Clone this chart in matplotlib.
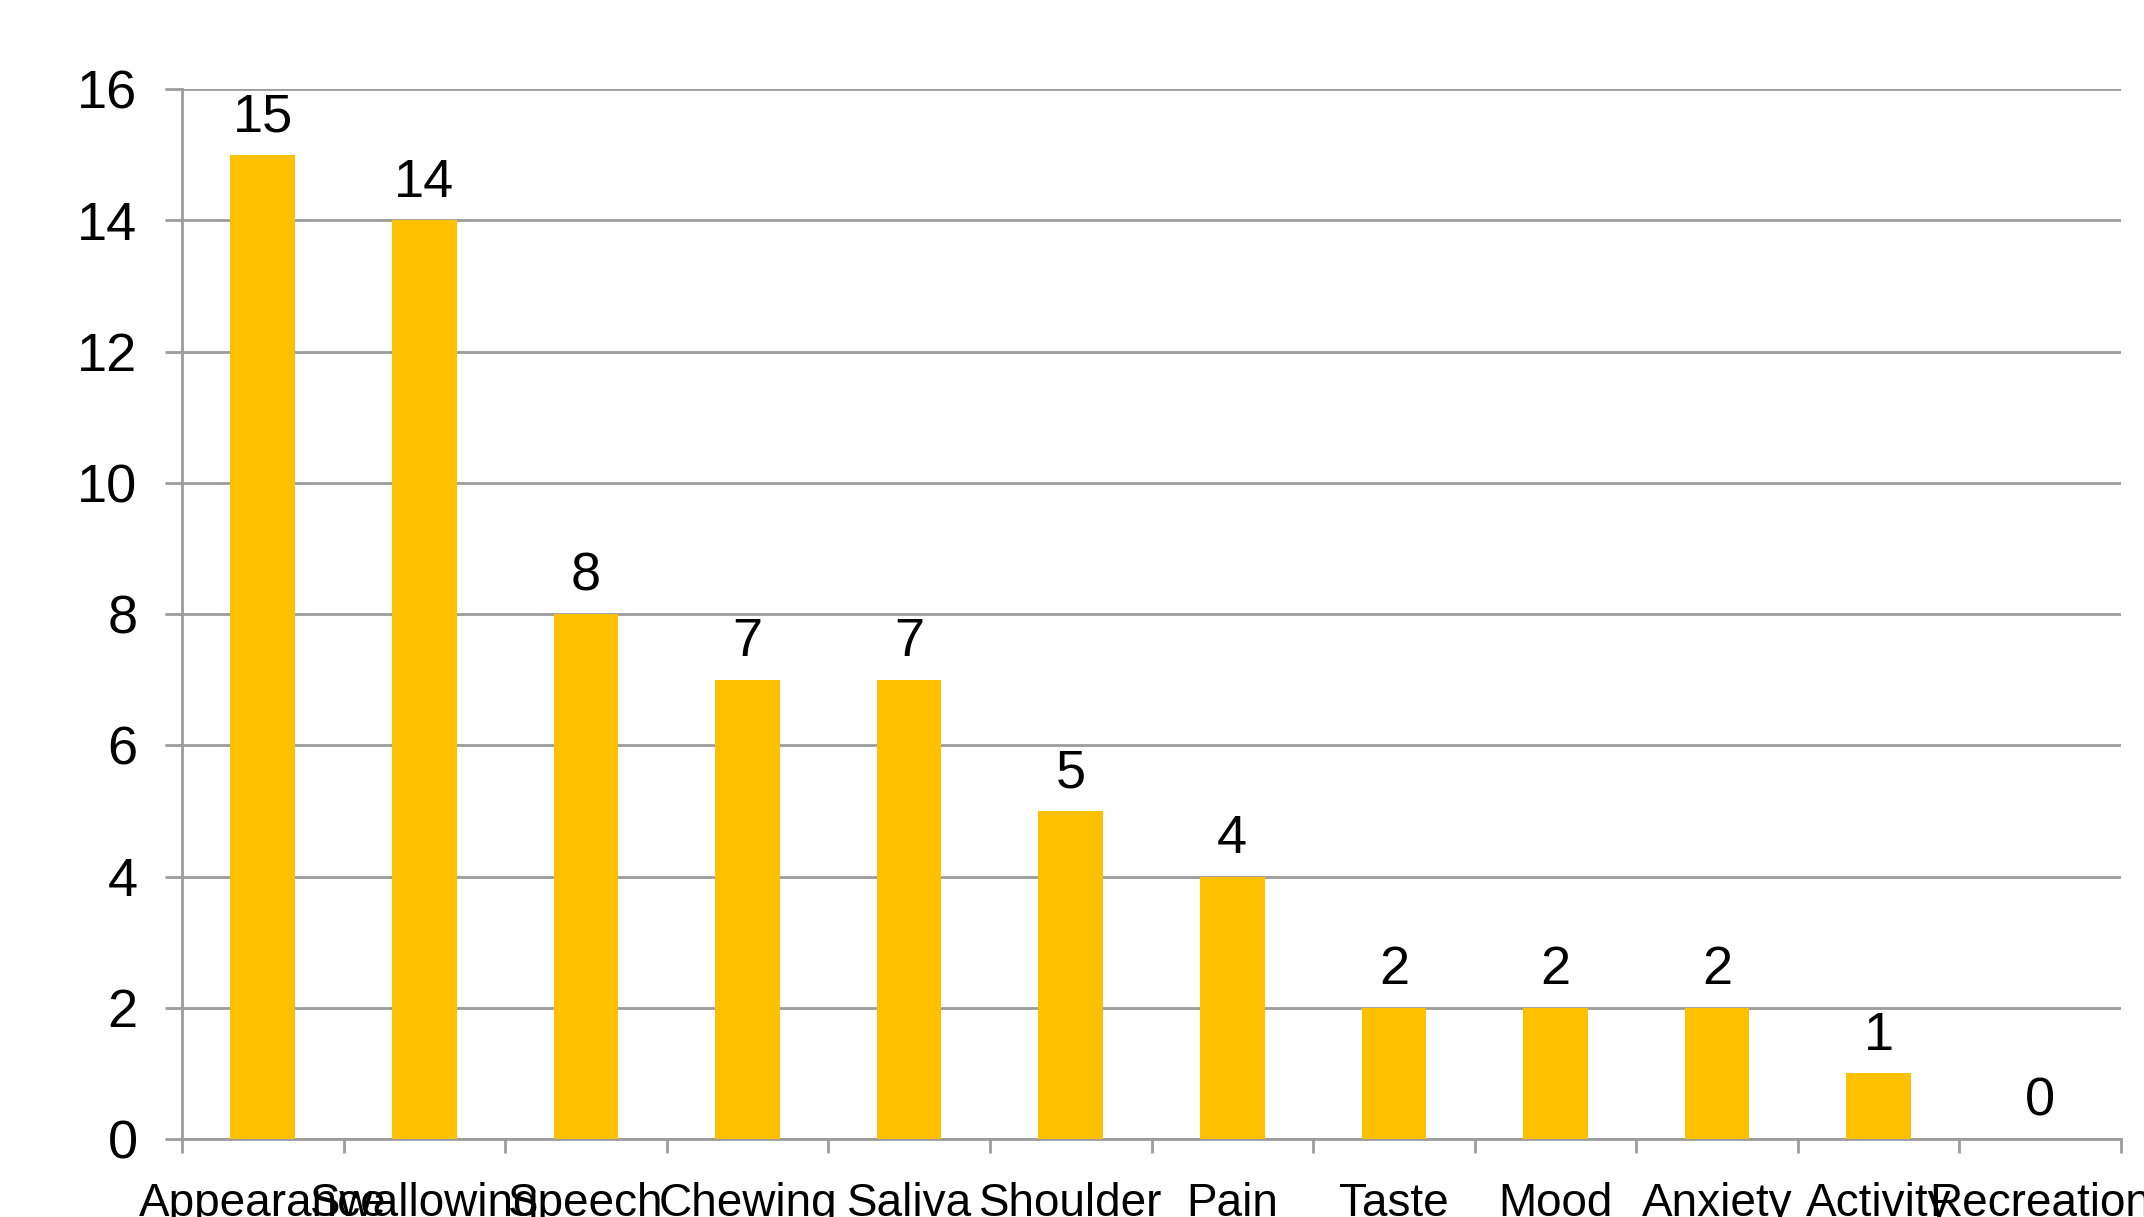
import numpy as np
import matplotlib
matplotlib.use('Agg')
import matplotlib.pyplot as plt
from matplotlib.ticker import FixedLocator, NullFormatter

# dados
categorias = ['Appearance', 'Swallowing', 'Speech', 'Chewing', 'Saliva',
              'Shoulder', 'Pain', 'Taste', 'Mood', 'Anxiety', 'Activity',
              'Recreation']
valores = [15, 14, 8, 7, 7, 5, 4, 2, 2, 2, 1, 0]
yticks = [0, 2, 4, 6, 8, 10, 12, 14, 16]

plt.rcParams['font.family'] = ['Liberation Sans', 'DejaVu Sans']

cor_barra = '#FFC000'
cinza = '#9C9C9C'
fs = 39       # numeros
fs_cat = 33   # rotulos das categorias (fonte original e estreita)

fig = plt.figure(figsize=(21.44, 12.17), dpi=100)
ax = fig.add_axes([182/2144, 1 - 1139/1217, (2121-182)/2144, (1139-89)/1217])

x = np.arange(len(categorias))
ax.bar(x, valores, width=0.4, color=cor_barra, zorder=3)

# valores acima das barras
for xi, v in zip(x, valores):
    ax.annotate(str(v), (xi, v), xytext=(0, 9), textcoords='offset points',
                ha='center', va='bottom', fontsize=fs)

ax.set_xlim(-0.5, len(categorias) - 0.5)
ax.set_ylim(0, 16)
ax.set_yticks(yticks)
ax.set_yticklabels([str(t) for t in yticks], fontsize=fs)

# rotulos no centro, marcas nas fronteiras
ax.set_xticks(x)
ax.set_xticklabels(categorias, fontsize=fs_cat)
ax.tick_params(axis='x', which='major', length=0, pad=31)
ax.xaxis.set_minor_locator(FixedLocator(np.arange(-0.5, len(categorias), 1.0)))
ax.xaxis.set_minor_formatter(NullFormatter())
ax.tick_params(axis='x', which='minor', length=10, width=2, color=cinza, direction='out')
ax.tick_params(axis='y', length=12, width=2, color=cinza, pad=20)

# grades
ax.grid(axis='y', color=cinza, linewidth=2, zorder=0)
for s in ['top', 'right']:
    ax.spines[s].set_visible(False)
for s in ['left', 'bottom']:
    ax.spines[s].set_color(cinza)
    ax.spines[s].set_linewidth(2)

plt.savefig('out.png', dpi=100)
